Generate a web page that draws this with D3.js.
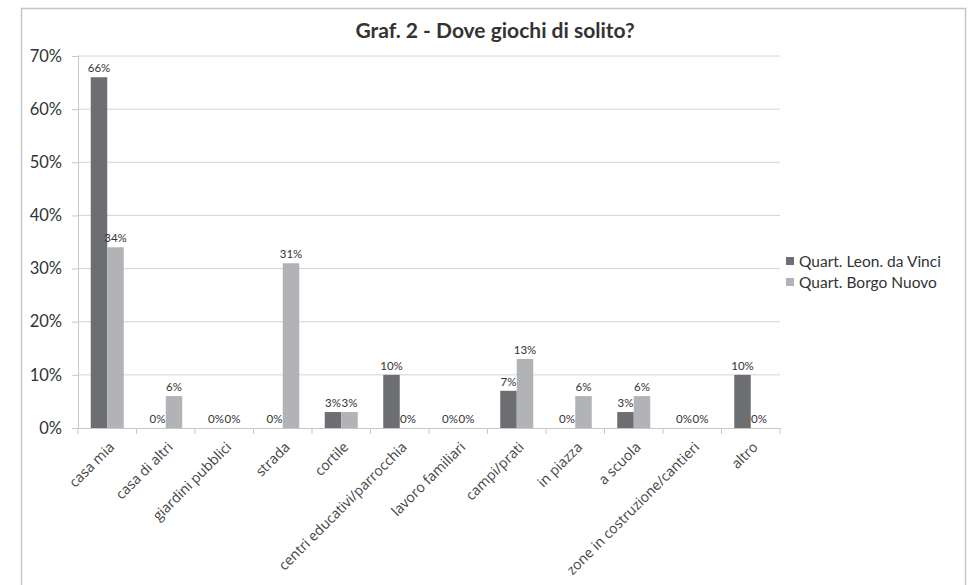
<!DOCTYPE html>
<html>
<head>
<meta charset="utf-8">
<script src="https://cdn.jsdelivr.net/npm/d3@7"></script>
<style>
  html, body { margin: 0; padding: 0; background: #fff; }
  svg { display: block; }
</style>
</head>
<body>
<svg id="chart" width="973" height="585"></svg>
<script>
// Survey answers: where children usually play, by neighbourhood
const categories = ["casa mia", "casa di altri", "giardini pubblici", "strada", "cortile",
  "centri educativi/parrocchia", "lavoro familiari", "campi/prati", "in piazza",
  "a scuola", "zone in costruzione/cantieri", "altro"];
const seriesNames = ["Quart. Leon. da Vinci", "Quart. Borgo Nuovo"];
const leonDaVinci = [66, 0, 0, 0, 3, 10, 0, 7, 0, 3, 0, 10];
const borgoNuovo  = [34, 6, 0, 31, 3, 0, 0, 13, 6, 6, 0, 0];
const yTicks = [0, 10, 20, 30, 40, 50, 60, 70];
const colors = ["#6d6e72", "#b2b3b7"];

const series = [leonDaVinci, borgoNuovo];
const svg = d3.select("#chart");

// outer frame
svg.append("rect")
  .attr("x", 21.5).attr("y", 8.5)
  .attr("width", 944).attr("height", 600)
  .attr("fill", "#fff").attr("stroke", "#c6c6c6").attr("stroke-width", 1.5);

const plot = { left: 78, right: 780, top: 56, bottom: 428 };

const x = d3.scaleBand().domain(categories).range([plot.left, plot.right]).paddingInner(0).paddingOuter(0);
const groupW = 33;
const xs = d3.scaleBand().domain(d3.range(series.length)).range([0, groupW]);
const y = d3.scaleLinear().domain([0, 70]).range([plot.bottom, plot.top]);

// gridlines
svg.append("g")
  .selectAll("line").data(yTicks.filter(t => t > 0)).join("line")
  .attr("x1", plot.left).attr("x2", plot.right)
  .attr("y1", d => y(d)).attr("y2", d => y(d))
  .attr("stroke", "#d4d4d4").attr("stroke-width", 1);

// y axis
const yAxis = svg.append("g")
  .attr("transform", `translate(${plot.left},0)`)
  .call(d3.axisLeft(y).tickValues(yTicks).tickFormat(d => d + "%").tickSize(6).tickPadding(10));
yAxis.select(".domain").attr("stroke", "#c8c8c8");
yAxis.selectAll(".tick line").attr("stroke", "#c8c8c8");
yAxis.selectAll("text")
  .attr("fill", "#333").attr("font-family", "Lato, 'Open Sans', sans-serif").attr("font-size", 16.5);

// bars
categories.forEach((c, i) => {
  const g = svg.append("g").attr("transform", `translate(${x(c) + (x.bandwidth() - groupW) / 2},0)`);
  series.forEach((s, k) => {
    const v = s[i];
    g.append("rect")
      .attr("x", xs(k)).attr("width", xs.bandwidth())
      .attr("y", y(v)).attr("height", y(0) - y(v))
      .attr("fill", colors[k]);
    g.append("text")
      .attr("x", xs(k) + xs.bandwidth() / 2)
      .attr("y", y(v) - 5)
      .attr("text-anchor", "middle")
      .attr("font-family", "Lato, 'Open Sans', sans-serif")
      .attr("font-size", 11.5).attr("fill", "#333")
      .text(v + "%");
  });
});

// x axis
const xAxis = svg.append("g")
  .attr("transform", `translate(0,${plot.bottom})`)
  .call(d3.axisBottom(x).tickSize(0).tickFormat(""));
xAxis.select(".domain").attr("stroke", "#c8c8c8");
// category boundary ticks
svg.append("g").selectAll("line")
  .data(d3.range(categories.length + 1)).join("line")
  .attr("x1", d => plot.left + d * x.step()).attr("x2", d => plot.left + d * x.step())
  .attr("y1", plot.bottom).attr("y2", plot.bottom + 6)
  .attr("stroke", "#c8c8c8");

// rotated category labels
svg.append("g").selectAll("text").data(categories).join("text")
  .attr("transform", d => `translate(${x(d) + x.bandwidth() / 2 + 8},${plot.bottom + 20}) rotate(-45)`)
  .attr("text-anchor", "end")
  .attr("font-family", "'Open Sans', 'DejaVu Sans', sans-serif")
  .attr("font-size", 14).attr("fill", "#444")
  .text(d => d);

// title
svg.append("text")
  .attr("x", 495).attr("y", 38)
  .attr("text-anchor", "middle")
  .attr("font-family", "Lato, 'Open Sans', sans-serif")
  .attr("font-weight", "bold").attr("font-size", 21).attr("fill", "#333")
  .text("Graf. 2 - Dove giochi di solito?");

// legend
const legend = svg.append("g").attr("transform", "translate(786,255)");
seriesNames.forEach((n, k) => {
  legend.append("rect").attr("x", 0).attr("y", k * 21 + 2).attr("width", 8).attr("height", 8).attr("fill", colors[k]);
  legend.append("text").attr("x", 13).attr("y", k * 21 + 12)
    .attr("font-family", "Lato, 'Open Sans', sans-serif")
    .attr("font-size", 15.5).attr("fill", "#333")
    .text(n);
});
</script>
</body>
</html>
